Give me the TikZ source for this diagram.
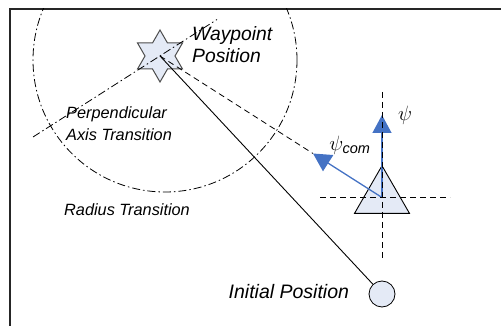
\documentclass[tikz,border=0pt]{standalone}
\usepackage{fontspec}
\setmainfont{Liberation Sans}
\usetikzlibrary{shapes.geometric,arrows.meta}
\definecolor{shapefill}{RGB}{228,234,246}
\definecolor{arrowblue}{RGB}{68,114,196}
\tikzset{
  frameline/.style={line width=1.6pt, black!85},
  dashdot/.style={line width=0.8pt, dash pattern=on 8pt off 3pt on 1.5pt off 3pt},
  dashline/.style={line width=0.8pt, dash pattern=on 6pt off 4pt},
  solidline/.style={line width=0.9pt},
  headarrow/.style={line width=1.3pt, arrowblue, -{Triangle[length=18pt,width=19pt]}},
  smalllbl/.style={inner sep=0pt, font=\itshape\fontsize{16.3}{22}\selectfont, align=left},
  biglbl/.style={inner sep=0pt, font=\itshape\fontsize{19.3}{22}\selectfont, align=left},
  greeklbl/.style={inner sep=0pt, font=\fontsize{22}{24}\selectfont},
  starshape/.style={draw=black!70, line width=1pt, fill=shapefill, line join=miter},
  plainshape/.style={draw, line width=0.9pt, fill=shapefill, inner sep=0pt},
}
\begin{document}
\begin{tikzpicture}[x=1pt,y=-1pt]
  \useasboundingbox (0,0) rectangle (501,326);
  % frame
  \draw[frameline] (10,326) -- (10,9) -- (501,9);
  % radius transition circle (clipped by the frame)
  \begin{scope}
    \clip (10,9) rectangle (501,326);
    \draw[dashdot] (165,60) circle[radius=132pt];
  \end{scope}
  % waypoint star (six-pointed)
  \coordinate (wp) at (160,56);
  \draw[starshape, shift={(wp)}]
    (0,-26) -- (7.5,-13) -- (22.5,-13) -- (15,0) -- (22.5,13) -- (7.5,13) --
    (0,26) -- (-7.5,13) -- (-22.5,13) -- (-15,0) -- (-22.5,-13) -- (-7.5,-13) -- cycle;
  % initial position
  \node[plainshape, circle, minimum size=26pt, line width=0.8pt] (init) at (382,294) {};
  % vehicle triangle
  \node[plainshape, regular polygon, regular polygon sides=3, minimum size=63.5pt] (veh) at (382,197.5) {};
  % coordinates
  \coordinate (comtip) at (313,153.5);
  \coordinate (psitip) at (382,115);
  \coordinate (perpA) at (33,137);
  \coordinate (perpB) at (217,19.5);
  \coordinate (hL) at (320,197.5);
  \coordinate (hR) at (450,197.5);
  \coordinate (vT) at (382,92);
  \coordinate (vB) at (382,258);
  % lines
  \draw[dashdot] (perpA) -- (perpB);
  \draw[solidline] (wp) -- (init);
  \draw[dashline] (wp) -- (comtip);
  \draw[headarrow] (veh.center) -- (comtip);
  \draw[headarrow] (veh.center) -- (psitip);
  \draw[dashline] (hL) -- (hR);
  \draw[dashline] (vT) -- (vB);
  % labels
  \node[biglbl, anchor=north west] (wplbl) at (192,26) {Waypoint\\Position};
  \node[smalllbl, anchor=north west] (perplbl) at (66,106.3) {Perpendicular\\Axis Transition};
  \node[smalllbl, anchor=base west] (radlbl) at (64,215) {Radius Transition};
  \node[biglbl, font=\itshape\fontsize{19.5}{24}\selectfont, anchor=base west] (initlbl) at (228.5,298.5) {Initial Position};
  \node[greeklbl] (psilbl) at (405,115) {$\psi$};
  \node[greeklbl] (psicomlbl) at (350,145) {$\psi_{\mbox{\fontsize{14.5}{14.5}\selectfont\itshape com}}$};
\end{tikzpicture}
\end{document}
